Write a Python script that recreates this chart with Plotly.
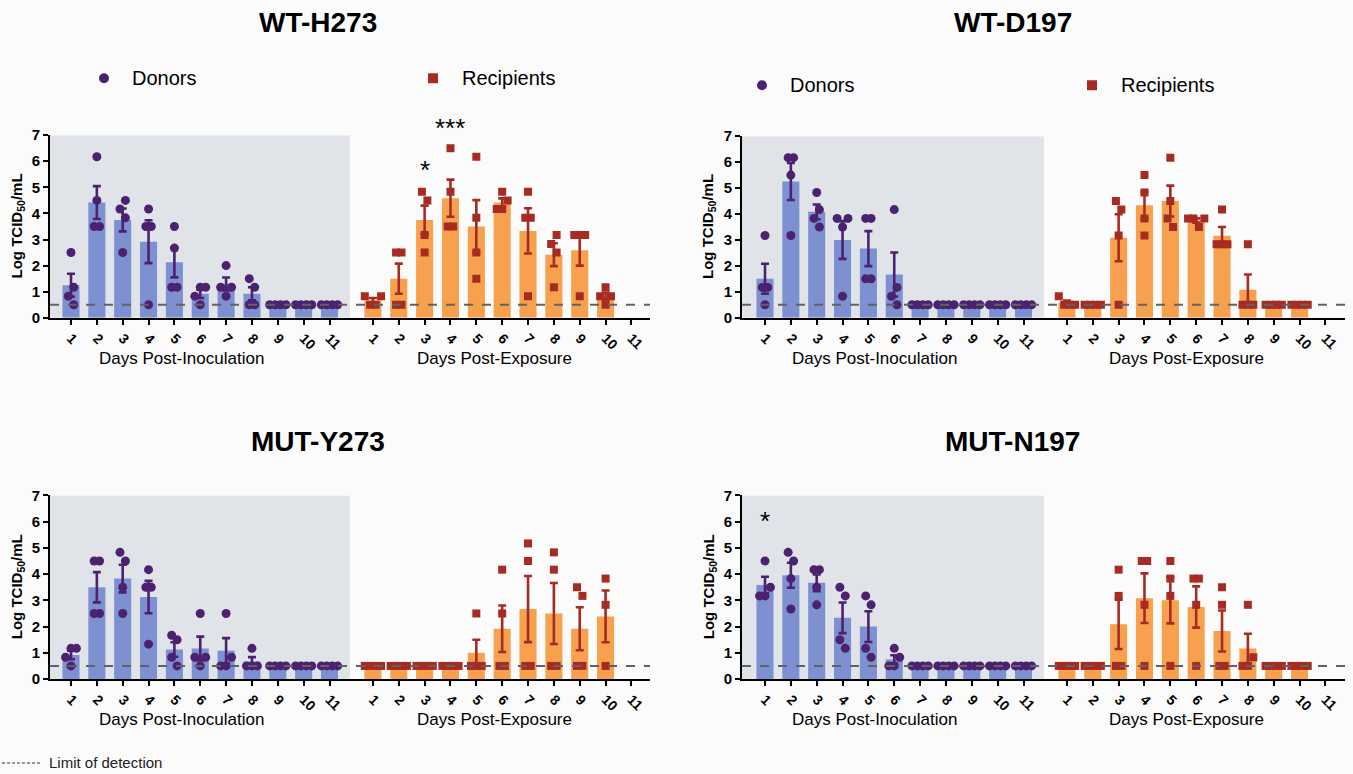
import numpy as np
import plotly.graph_objects as go

# ---------------- data (log TCID50/mL per animal, per day) ----------------
days = list(range(1, 12))
tick_labels = [str(d) for d in days]
LOD = 0.5

wt_h273_donors = [
    [2.5, 1.17, 0.83, 0.5], [6.17, 4.5, 3.5, 3.5], [4.5, 4.17, 3.83, 2.5],
    [4.17, 3.5, 3.5, 0.5], [3.5, 2.67, 1.17, 1.17], [1.17, 1.17, 0.83, 0.5],
    [2.0, 1.17, 1.17, 0.83], [1.5, 1.17, 0.5, 0.5], [0.5, 0.5, 0.5, 0.5],
    [0.5, 0.5, 0.5, 0.5], [0.5, 0.5, 0.5, 0.5]]
wt_h273_recipients = [
    [0.83, 0.83, 0.5, 0.5], [2.5, 2.5, 0.5, 0.5], [4.83, 4.5, 3.17, 2.5],
    [6.5, 4.83, 3.5, 3.5], [6.17, 3.83, 2.5, 1.5], [4.83, 4.5, 4.17, 4.17],
    [4.83, 3.83, 3.83, 0.83], [3.17, 2.83, 2.5, 1.17], [3.17, 3.17, 3.17, 0.83],
    [1.17, 0.83, 0.83, 0.5], []]

wt_d197_donors = [
    [3.17, 1.17, 1.17, 0.5], [6.17, 6.17, 5.5, 3.17], [4.83, 4.17, 3.83, 3.5],
    [3.83, 3.83, 3.5, 0.83], [3.83, 3.83, 1.5, 1.5], [4.17, 1.17, 0.83, 0.5],
    [0.5, 0.5, 0.5, 0.5], [0.5, 0.5, 0.5, 0.5], [0.5, 0.5, 0.5, 0.5],
    [0.5, 0.5, 0.5, 0.5], [0.5, 0.5, 0.5, 0.5]]
wt_d197_recipients = [
    [0.83, 0.5, 0.5, 0.5], [0.5, 0.5, 0.5, 0.5], [4.5, 4.17, 3.17, 0.5],
    [5.5, 4.83, 3.83, 3.17], [6.17, 4.5, 3.83, 3.5], [3.83, 3.83, 3.83, 3.5],
    [4.17, 2.83, 2.83, 2.83], [2.83, 0.5, 0.5, 0.5], [0.5, 0.5, 0.5, 0.5],
    [0.5, 0.5, 0.5, 0.5], []]

mut_y273_donors = [
    [1.17, 1.17, 0.83, 0.5], [4.5, 4.5, 2.5, 2.5], [4.83, 4.5, 3.5, 2.5],
    [4.17, 3.5, 3.5, 1.33], [1.67, 1.5, 0.83, 0.5], [2.5, 0.83, 0.83, 0.5],
    [2.5, 0.83, 0.5, 0.5], [1.17, 0.5, 0.5, 0.5], [0.5, 0.5, 0.5, 0.5],
    [0.5, 0.5, 0.5, 0.5], [0.5, 0.5, 0.5, 0.5]]
mut_y273_recipients = [
    [0.5, 0.5, 0.5, 0.5], [0.5, 0.5, 0.5, 0.5], [0.5, 0.5, 0.5, 0.5],
    [0.5, 0.5, 0.5, 0.5], [2.5, 0.5, 0.5, 0.5], [4.17, 2.5, 0.5, 0.5],
    [5.17, 4.5, 0.5, 0.5], [4.83, 4.17, 0.5, 0.5], [3.5, 3.17, 0.5, 0.5],
    [3.83, 2.83, 0.5], []]

mut_n197_donors = [
    [4.5, 3.5, 3.17, 3.17], [4.83, 4.5, 3.83, 2.67], [4.17, 4.17, 3.5, 2.83],
    [3.5, 3.17, 1.5, 1.17], [3.17, 2.83, 1.17, 0.83], [1.17, 0.83, 0.5, 0.5],
    [0.5, 0.5, 0.5, 0.5], [0.5, 0.5, 0.5, 0.5], [0.5, 0.5, 0.5, 0.5],
    [0.5, 0.5, 0.5, 0.5], [0.5, 0.5, 0.5, 0.5]]
mut_n197_recipients = [
    [0.5, 0.5, 0.5, 0.5], [0.5, 0.5, 0.5, 0.5], [4.17, 3.17, 0.5, 0.5],
    [4.5, 4.5, 2.83, 0.5], [4.5, 3.83, 3.17, 0.5], [3.83, 3.83, 2.83, 0.5],
    [3.5, 2.83, 0.5, 0.5], [2.83, 0.83, 0.5, 0.5], [0.5, 0.5, 0.5, 0.5],
    [0.5, 0.5, 0.5, 0.5], []]

panel_titles = ["WT-H273", "WT-D197", "MUT-Y273", "MUT-N197"]
# significance marks: (panel index, group, day, label)
sig_marks = [(0, "rec", 3, "*"), (0, "rec", 4, "***"), (3, "don", 1, "*")]

# ---------------- styling / layout constants ----------------
W, H = 1353, 774
FONT = "Arial, Liberation Sans, sans-serif"
DON_BAR, REC_BAR = "#7d90d1", "#f7a04e"
DON_PT, REC_PT = "#4a2270", "#a62c23"
SHADE = "#e0e4e8"
REC_SHIFT = 11.68
SHADE_END = 11.79
UNIT = 25.85  # px per day
# vertical compensation for the capture (observed y = 8.6 + 0.98 * page y)
Y_OFF, Y_SCALE = 8.6, 0.98

def px_x(p):
    return p / W

def px_y(p):
    return 1 - ((p - Y_OFF) / Y_SCALE) / H

# panel geometry (pixels in the picture): x axis left/right, y pixel of value 0 and 7
panels_geom = [
    dict(xl=50, xr=650, y0=318, y7=135, day1=71),
    dict(xl=742, xr=1345, y0=318, y7=136, day1=765),
    dict(xl=50, xr=650, y0=680, y7=496, day1=71),
    dict(xl=742, xr=1345, y0=680, y7=496, day1=765),
]
panel_data = [
    (wt_h273_donors, wt_h273_recipients),
    (wt_d197_donors, wt_d197_recipients),
    (mut_y273_donors, mut_y273_recipients),
    (mut_n197_donors, mut_n197_recipients),
]
# reference pixel rows of the significance marks
sig_px = {(0, "rec", 3): 168, (0, "rec", 4): 126, (3, "don", 1): 520}


def swarm(vals, w=0.21, thr=0.36):
    """Spread overlapping points sideways (beeswarm) and centre each cluster."""
    n = len(vals)
    offs = [0.0] * n
    order = sorted(range(n), key=lambda i: vals[i])
    placed = []
    for i in order:
        y = vals[i]
        for c in [0, -1, 1, -2, 2, -3, 3]:
            o = c * w
            if all(abs(o - po) >= w * 0.99 or abs(y - py) >= thr for po, py in placed):
                break
        placed.append((o, y))
        offs[i] = o
    srt = sorted(range(n), key=lambda i: vals[i])
    clusters, cur = [], []
    for i in srt:
        if cur and vals[i] - vals[cur[-1]] >= thr:
            clusters.append(cur)
            cur = []
        cur.append(i)
    if cur:
        clusters.append(cur)
    for cl in clusters:
        if len(cl) > 1:
            mid = (max(offs[i] for i in cl) + min(offs[i] for i in cl)) / 2
            for i in cl:
                offs[i] -= mid
    return offs


fig = go.Figure()
shapes, annotations = [], []

for k, (geom, (don, rec)) in enumerate(zip(panels_geom, panel_data)):
    ax = "" if k == 0 else str(k + 1)
    xref, yref = "x" + ax, "y" + ax
    xl_data = 1 - (geom["day1"] - geom["xl"]) / UNIT
    xr_data = xl_data + (geom["xr"] - geom["xl"]) / UNIT

    for grp, series, shift, bcol, pcol, sym, msize in [
        ("don", don, 0.0, DON_BAR, DON_PT, "circle", 9),
        ("rec", rec, REC_SHIFT, REC_BAR, REC_PT, "square", 8),
    ]:
        bx, by, be = [], [], []
        px_, py_ = [], []
        for d, vals in zip(days, series):
            if not vals:
                continue
            arr = np.array(vals, dtype=float)
            m = arr.mean()
            sem = arr.std(ddof=1) / np.sqrt(len(arr)) if len(arr) > 1 else 0.0
            bx.append(d + shift)
            by.append(m)
            be.append(sem if sem > 1e-6 else None)
            for o, v in zip(swarm(vals), vals):
                px_.append(d + shift + o)
                py_.append(v)
        fig.add_trace(go.Bar(
            x=bx, y=by, width=0.66, marker=dict(color=bcol, line=dict(width=0)),
            error_y=dict(type="data", array=be, visible=True, color=pcol,
                         thickness=2.6, width=4),
            xaxis=xref, yaxis=yref, showlegend=False, hoverinfo="skip"))
        fig.add_trace(go.Scatter(
            x=px_, y=py_, mode="markers",
            marker=dict(color=pcol, size=msize, symbol=sym, line=dict(width=0)),
            xaxis=xref, yaxis=yref, showlegend=False, hoverinfo="skip"))

    tickvals = [d for d in days] + [d + REC_SHIFT for d in days]
    ticktext = tick_labels + tick_labels
    xa = dict(
        domain=[px_x(geom["xl"]), px_x(geom["xr"])], range=[xl_data, xr_data],
        anchor=yref, tickvals=tickvals, ticktext=ticktext, tickangle=45,
        ticks="outside", ticklen=5, tickwidth=2, tickcolor="black",
        showline=True, linewidth=2, linecolor="black", showgrid=False,
        zeroline=False, tickfont=dict(family=FONT, size=14, color="black", weight="bold"),
    )
    ya = dict(
        domain=[px_y(geom["y0"]), px_y(geom["y7"])], range=[0, 7], anchor=xref,
        tickvals=list(range(8)), ticks="outside", ticklen=5, tickwidth=2,
        tickcolor="black", showline=True, linewidth=2, linecolor="black",
        showgrid=False, zeroline=False,
        tickfont=dict(family=FONT, size=15, color="black", weight="bold"),
    )
    fig.update_layout(**{"xaxis" + ax: xa, "yaxis" + ax: ya})

    shapes.append(dict(type="rect", xref=xref, yref=yref, x0=xl_data, x1=SHADE_END,
                       y0=0, y1=7, fillcolor=SHADE, line=dict(width=0), layer="below"))
    shapes.append(dict(type="line", xref=xref + " domain", yref=yref, x0=0, x1=1,
                       y0=LOD, y1=LOD, line=dict(color="#626262", width=2, dash="dash"),
                       layer="above"))

    ymid_title = 22 if k < 2 else 442
    annotations.append(dict(text="<b>%s</b>" % panel_titles[k], xref="paper", yref="paper",
                            x=px_x(318 if k % 2 == 0 else 1013), y=px_y(ymid_title),
                            showarrow=False, font=dict(family=FONT, size=28, color="black"),
                            xanchor="center", yanchor="middle"))
    annotations.append(dict(text="<b>Log TCID<sub>50</sub>/mL</b>", xref="paper", yref="paper",
                            x=px_x(geom["xl"] - 33), y=px_y((geom["y0"] + geom["y7"]) / 2),
                            textangle=-90, showarrow=False,
                            font=dict(family=FONT, size=15, color="black"),
                            xanchor="center", yanchor="middle"))
    ytit = geom["y0"] + 41
    cx_don = 181 if k % 2 == 0 else 874
    cx_rec = 494 if k % 2 == 0 else 1186
    for txt, cx in [("Days Post-Inoculation", cx_don), ("Days Post-Exposure", cx_rec)]:
        annotations.append(dict(text=txt, xref="paper", yref="paper", x=px_x(cx), y=px_y(ytit),
                                showarrow=False, font=dict(family=FONT, size=17, color="black"),
                                xanchor="center", yanchor="middle"))

# significance asterisks
for k, grp, d, lab in sig_marks:
    ax = "" if k == 0 else str(k + 1)
    annotations.append(dict(text=lab, xref="x" + ax, yref="paper",
                            x=d + (REC_SHIFT if grp == "rec" else 0),
                            y=px_y(sig_px[(k, grp, d)] + 2),
                            showarrow=False, font=dict(family=FONT, size=26, color="black"),
                            xanchor="center", yanchor="middle"))

for cxd, cxr, ly in [(104, 433, 78), (762, 1092, 85)]:
    shapes.append(dict(type="circle", xref="paper", yref="paper",
                       x0=px_x(cxd - 5), x1=px_x(cxd + 5), y0=px_y(ly + 5), y1=px_y(ly - 5),
                       fillcolor=DON_PT, line=dict(width=0)))
    shapes.append(dict(type="rect", xref="paper", yref="paper",
                       x0=px_x(cxr - 5), x1=px_x(cxr + 5), y0=px_y(ly + 5), y1=px_y(ly - 5),
                       fillcolor=REC_PT, line=dict(width=0)))
    annotations.append(dict(text="Donors", xref="paper", yref="paper", x=px_x(cxd + 26),
                            y=px_y(ly), showarrow=False, xanchor="left", yanchor="middle",
                            font=dict(family=FONT, size=20, color="black")))
    annotations.append(dict(text="Recipients", xref="paper", yref="paper", x=px_x(cxr + 27),
                            y=px_y(ly), showarrow=False, xanchor="left", yanchor="middle",
                            font=dict(family=FONT, size=20, color="black")))

shapes.append(dict(type="line", xref="paper", yref="paper", x0=px_x(2), x1=px_x(42),
                   y0=px_y(764), y1=px_y(764), line=dict(color="#777777", width=1.5, dash="3px,2px")))
annotations.append(dict(text="Limit of detection", xref="paper", yref="paper", x=px_x(47),
                        y=px_y(764), showarrow=False, xanchor="left", yanchor="middle",
                        font=dict(family=FONT, size=15, color="#222222")))

fig.update_layout(
    autosize=True, margin=dict(l=0, r=0, t=0, b=0),
    paper_bgcolor="#fbfbfb", plot_bgcolor="#fbfbfb",
    shapes=shapes, annotations=annotations, showlegend=False,
    barmode="overlay", font=dict(family=FONT),
)

post = (
    "var gd=document.getElementById('{plot_id}');"
    "document.documentElement.style.margin='0';"
    "document.body.style.margin='0';document.body.style.overflow='hidden';"
    "gd.style.position='fixed';gd.style.left='0px';gd.style.top='0px';"
    "gd.style.width='%dpx';gd.style.height='%dpx';"
    "Plotly.relayout(gd,{width:%d,height:%d});" % (W, H, W, H)
)

fig.write_html("out.html", default_width="1300px", default_height="700px",
               config={"displayModeBar": False}, post_script=post)
